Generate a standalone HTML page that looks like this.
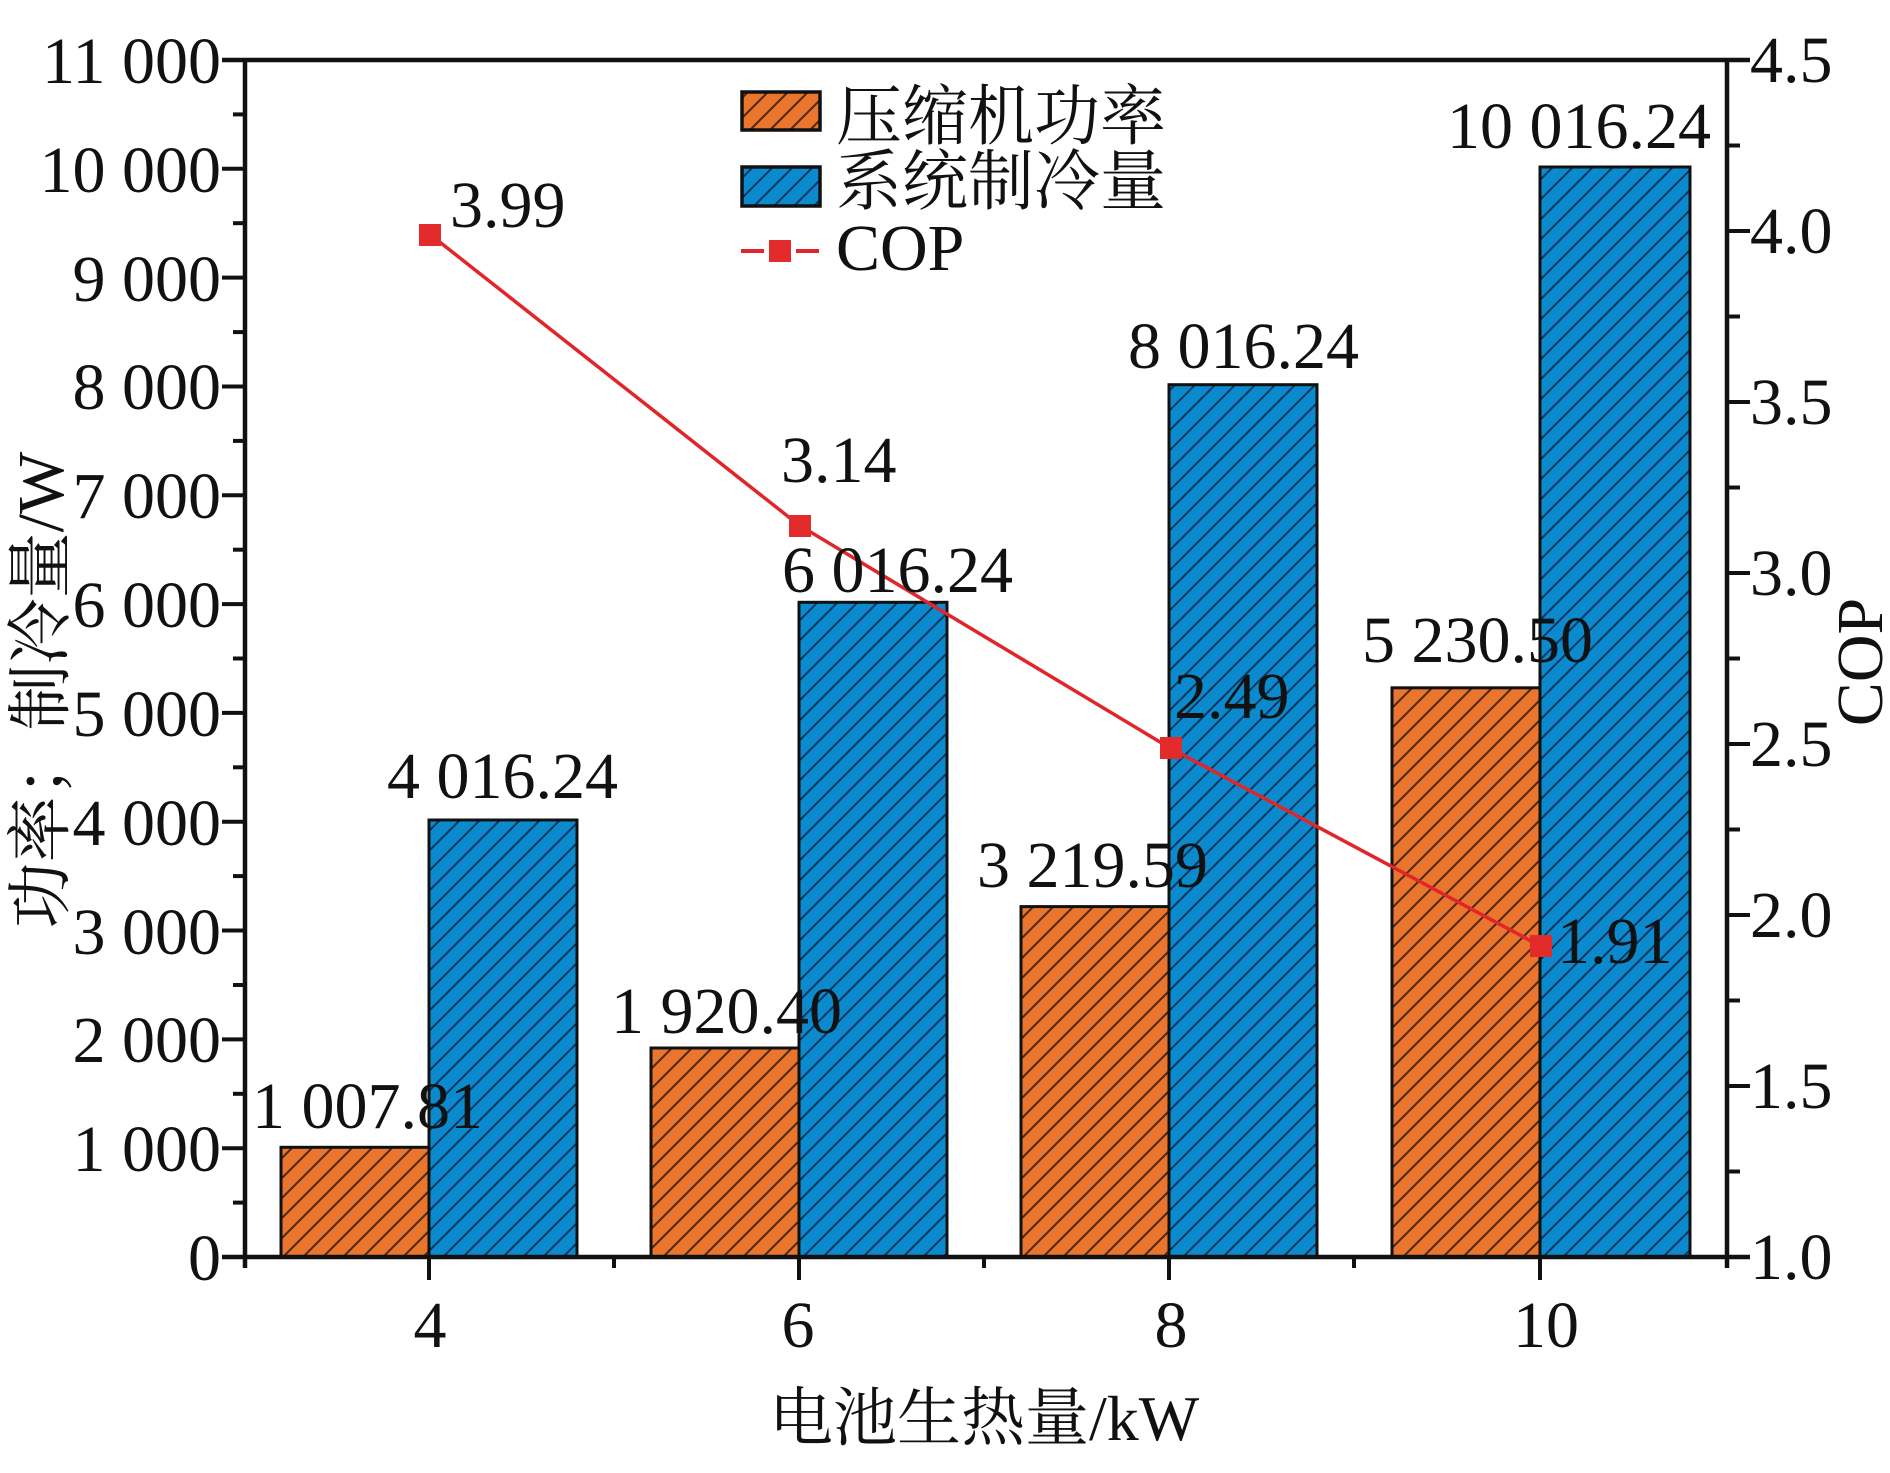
<!DOCTYPE html>
<html>
<head>
<meta charset="utf-8">
<style>
  html, body { margin: 0; padding: 0; background: #ffffff; }
  svg { display: block; }
  .num { font-family: "Liberation Serif", "Noto Serif CJK SC", serif; font-size: 66px; fill: #111; }
  .cjk { font-family: "Liberation Serif", "Noto Serif CJK SC", serif; font-size: 66px; fill: #111; }
</style>
</head>
<body>
<svg width="1890" height="1473" viewBox="0 0 1890 1473" xmlns="http://www.w3.org/2000/svg">
  <defs>
    <pattern id="hO" patternUnits="userSpaceOnUse" width="20" height="20">
      <rect width="20" height="20" fill="#EA752C"/>
      <path d="M-5,5 l10,-10 M0,20 l20,-20 M15,25 l10,-10" stroke="#4a2614" stroke-width="2"/>
    </pattern>
    <pattern id="hB" patternUnits="userSpaceOnUse" width="20" height="20">
      <rect width="20" height="20" fill="#0B8BCD"/>
      <path d="M-5,5 l10,-10 M0,20 l20,-20 M15,25 l10,-10" stroke="#0b3560" stroke-width="2"/>
    </pattern>
  </defs>

  <rect width="1890" height="1473" fill="#ffffff"/>

  <g stroke="#111" stroke-width="3">
    <rect x="281" y="1147.3" width="148" height="109.7" fill="url(#hO)"/>
    <rect x="429" y="820.0" width="148" height="437.0" fill="url(#hB)"/>
    <rect x="651" y="1048.0" width="148" height="209.0" fill="url(#hO)"/>
    <rect x="799" y="602.3" width="148" height="654.7" fill="url(#hB)"/>
    <rect x="1021" y="906.6" width="148" height="350.4" fill="url(#hO)"/>
    <rect x="1169" y="384.7" width="148" height="872.3" fill="url(#hB)"/>
    <rect x="1392" y="687.8" width="148" height="569.2" fill="url(#hO)"/>
    <rect x="1540" y="167.0" width="150" height="1090.0" fill="url(#hB)"/>
  </g>

  <g stroke="#111" stroke-width="4.5" fill="none">
    <line x1="222" y1="60" x2="1750" y2="60"/>
    <line x1="222" y1="1257" x2="1750" y2="1257"/>
    <line x1="245" y1="58" x2="245" y2="1268"/>
    <line x1="1727" y1="58" x2="1727" y2="1268"/>
  </g>

  <g stroke="#111" stroke-width="4">
    <line x1="222" y1="1148.2" x2="245" y2="1148.2"/>
    <line x1="222" y1="1039.4" x2="245" y2="1039.4"/>
    <line x1="222" y1="930.5" x2="245" y2="930.5"/>
    <line x1="222" y1="821.7" x2="245" y2="821.7"/>
    <line x1="222" y1="712.9" x2="245" y2="712.9"/>
    <line x1="222" y1="604.1" x2="245" y2="604.1"/>
    <line x1="222" y1="495.3" x2="245" y2="495.3"/>
    <line x1="222" y1="386.5" x2="245" y2="386.5"/>
    <line x1="222" y1="277.6" x2="245" y2="277.6"/>
    <line x1="222" y1="168.8" x2="245" y2="168.8"/>
    <line x1="233" y1="1202.6" x2="245" y2="1202.6"/>
    <line x1="233" y1="1093.8" x2="245" y2="1093.8"/>
    <line x1="233" y1="985.0" x2="245" y2="985.0"/>
    <line x1="233" y1="876.1" x2="245" y2="876.1"/>
    <line x1="233" y1="767.3" x2="245" y2="767.3"/>
    <line x1="233" y1="658.5" x2="245" y2="658.5"/>
    <line x1="233" y1="549.7" x2="245" y2="549.7"/>
    <line x1="233" y1="440.9" x2="245" y2="440.9"/>
    <line x1="233" y1="332.1" x2="245" y2="332.1"/>
    <line x1="233" y1="223.2" x2="245" y2="223.2"/>
    <line x1="233" y1="114.4" x2="245" y2="114.4"/>
    <line x1="1727" y1="1086" x2="1750" y2="1086"/>
    <line x1="1727" y1="915" x2="1750" y2="915"/>
    <line x1="1727" y1="744" x2="1750" y2="744"/>
    <line x1="1727" y1="573" x2="1750" y2="573"/>
    <line x1="1727" y1="402" x2="1750" y2="402"/>
    <line x1="1727" y1="231" x2="1750" y2="231"/>
    <line x1="1727" y1="1171.5" x2="1740" y2="1171.5"/>
    <line x1="1727" y1="1000.5" x2="1740" y2="1000.5"/>
    <line x1="1727" y1="829.5" x2="1740" y2="829.5"/>
    <line x1="1727" y1="658.5" x2="1740" y2="658.5"/>
    <line x1="1727" y1="487.5" x2="1740" y2="487.5"/>
    <line x1="1727" y1="316.5" x2="1740" y2="316.5"/>
    <line x1="1727" y1="145.5" x2="1740" y2="145.5"/>
    <line x1="429" y1="1257" x2="429" y2="1280"/>
    <line x1="799" y1="1257" x2="799" y2="1280"/>
    <line x1="1169" y1="1257" x2="1169" y2="1280"/>
    <line x1="1540" y1="1257" x2="1540" y2="1280"/>
    <line x1="614" y1="1257" x2="614" y2="1268"/>
    <line x1="984" y1="1257" x2="984" y2="1268"/>
    <line x1="1354" y1="1257" x2="1354" y2="1268"/>
  </g>

  <g class="num" text-anchor="end">
    <text x="221" y="1280">0</text>
    <text x="221" y="1171">1 000</text>
    <text x="221" y="1062">2 000</text>
    <text x="221" y="954">3 000</text>
    <text x="221" y="845">4 000</text>
    <text x="221" y="736">5 000</text>
    <text x="221" y="627">6 000</text>
    <text x="221" y="518">7 000</text>
    <text x="221" y="409">8 000</text>
    <text x="221" y="301">9 000</text>
    <text x="221" y="192">10 000</text>
    <text x="221" y="83">11 000</text>
  </g>

  <g class="num" text-anchor="start">
    <text x="1750" y="1279">1.0</text>
    <text x="1750" y="1108">1.5</text>
    <text x="1750" y="937">2.0</text>
    <text x="1750" y="766">2.5</text>
    <text x="1750" y="595">3.0</text>
    <text x="1750" y="424">3.5</text>
    <text x="1750" y="253">4.0</text>
    <text x="1750" y="82">4.5</text>
  </g>

  <g class="num" text-anchor="middle">
    <text x="430" y="1347">4</text>
    <text x="798" y="1347">6</text>
    <text x="1171" y="1347">8</text>
    <text x="1546" y="1347">10</text>
  </g>

  <polyline points="430,234.4 799,525.1 1169,747.4 1540,945.8" fill="none" stroke="#E0262A" stroke-width="3.5"/>
  <g fill="#E32B2B">
    <rect x="419" y="224" width="22" height="22"/>
    <rect x="789" y="515" width="22" height="22"/>
    <rect x="1160" y="737" width="22" height="22"/>
    <rect x="1530" y="935" width="22" height="22"/>
  </g>

  <g class="num">
    <text x="252" y="1128">1 007.81</text>
    <text x="387" y="798">4 016.24</text>
    <text x="611" y="1033">1 920.40</text>
    <text x="782" y="592">6 016.24</text>
    <text x="977" y="887">3 219.59</text>
    <text x="1128" y="368">8 016.24</text>
    <text x="1362" y="662">5 230.50</text>
    <text x="1447" y="148">10 016.24</text>
    <text x="450" y="227">3.99</text>
    <text x="781" y="482">3.14</text>
    <text x="1174" y="718">2.49</text>
    <text x="1557" y="963">1.91</text>
  </g>

  <rect x="742" y="92" width="78" height="38" fill="url(#hO)" stroke="#111" stroke-width="3.5"/>
  <rect x="742" y="167" width="78" height="39" fill="url(#hB)" stroke="#111" stroke-width="3.5"/>
  <g stroke="#E0262A" stroke-width="4">
    <line x1="741" y1="251" x2="764" y2="251"/>
    <line x1="796" y1="251" x2="819" y2="251"/>
  </g>
  <rect x="769" y="240" width="22" height="22" fill="#E32B2B"/>
  <text class="cjk" x="836" y="139">压缩机功率</text>
  <text class="cjk" x="836" y="204">系统制冷量</text>
  <text class="num" x="836" y="270">COP</text>

  <text class="cjk" transform="translate(63,690) rotate(-90)" text-anchor="middle">功率；制冷量/W</text>
  <text class="num" transform="translate(1882,662) rotate(-90)" text-anchor="middle">COP</text>
  <text class="cjk" x="769" y="1440" style="font-size:64px">电池生热量/kW</text>
</svg>
</body>
</html>
